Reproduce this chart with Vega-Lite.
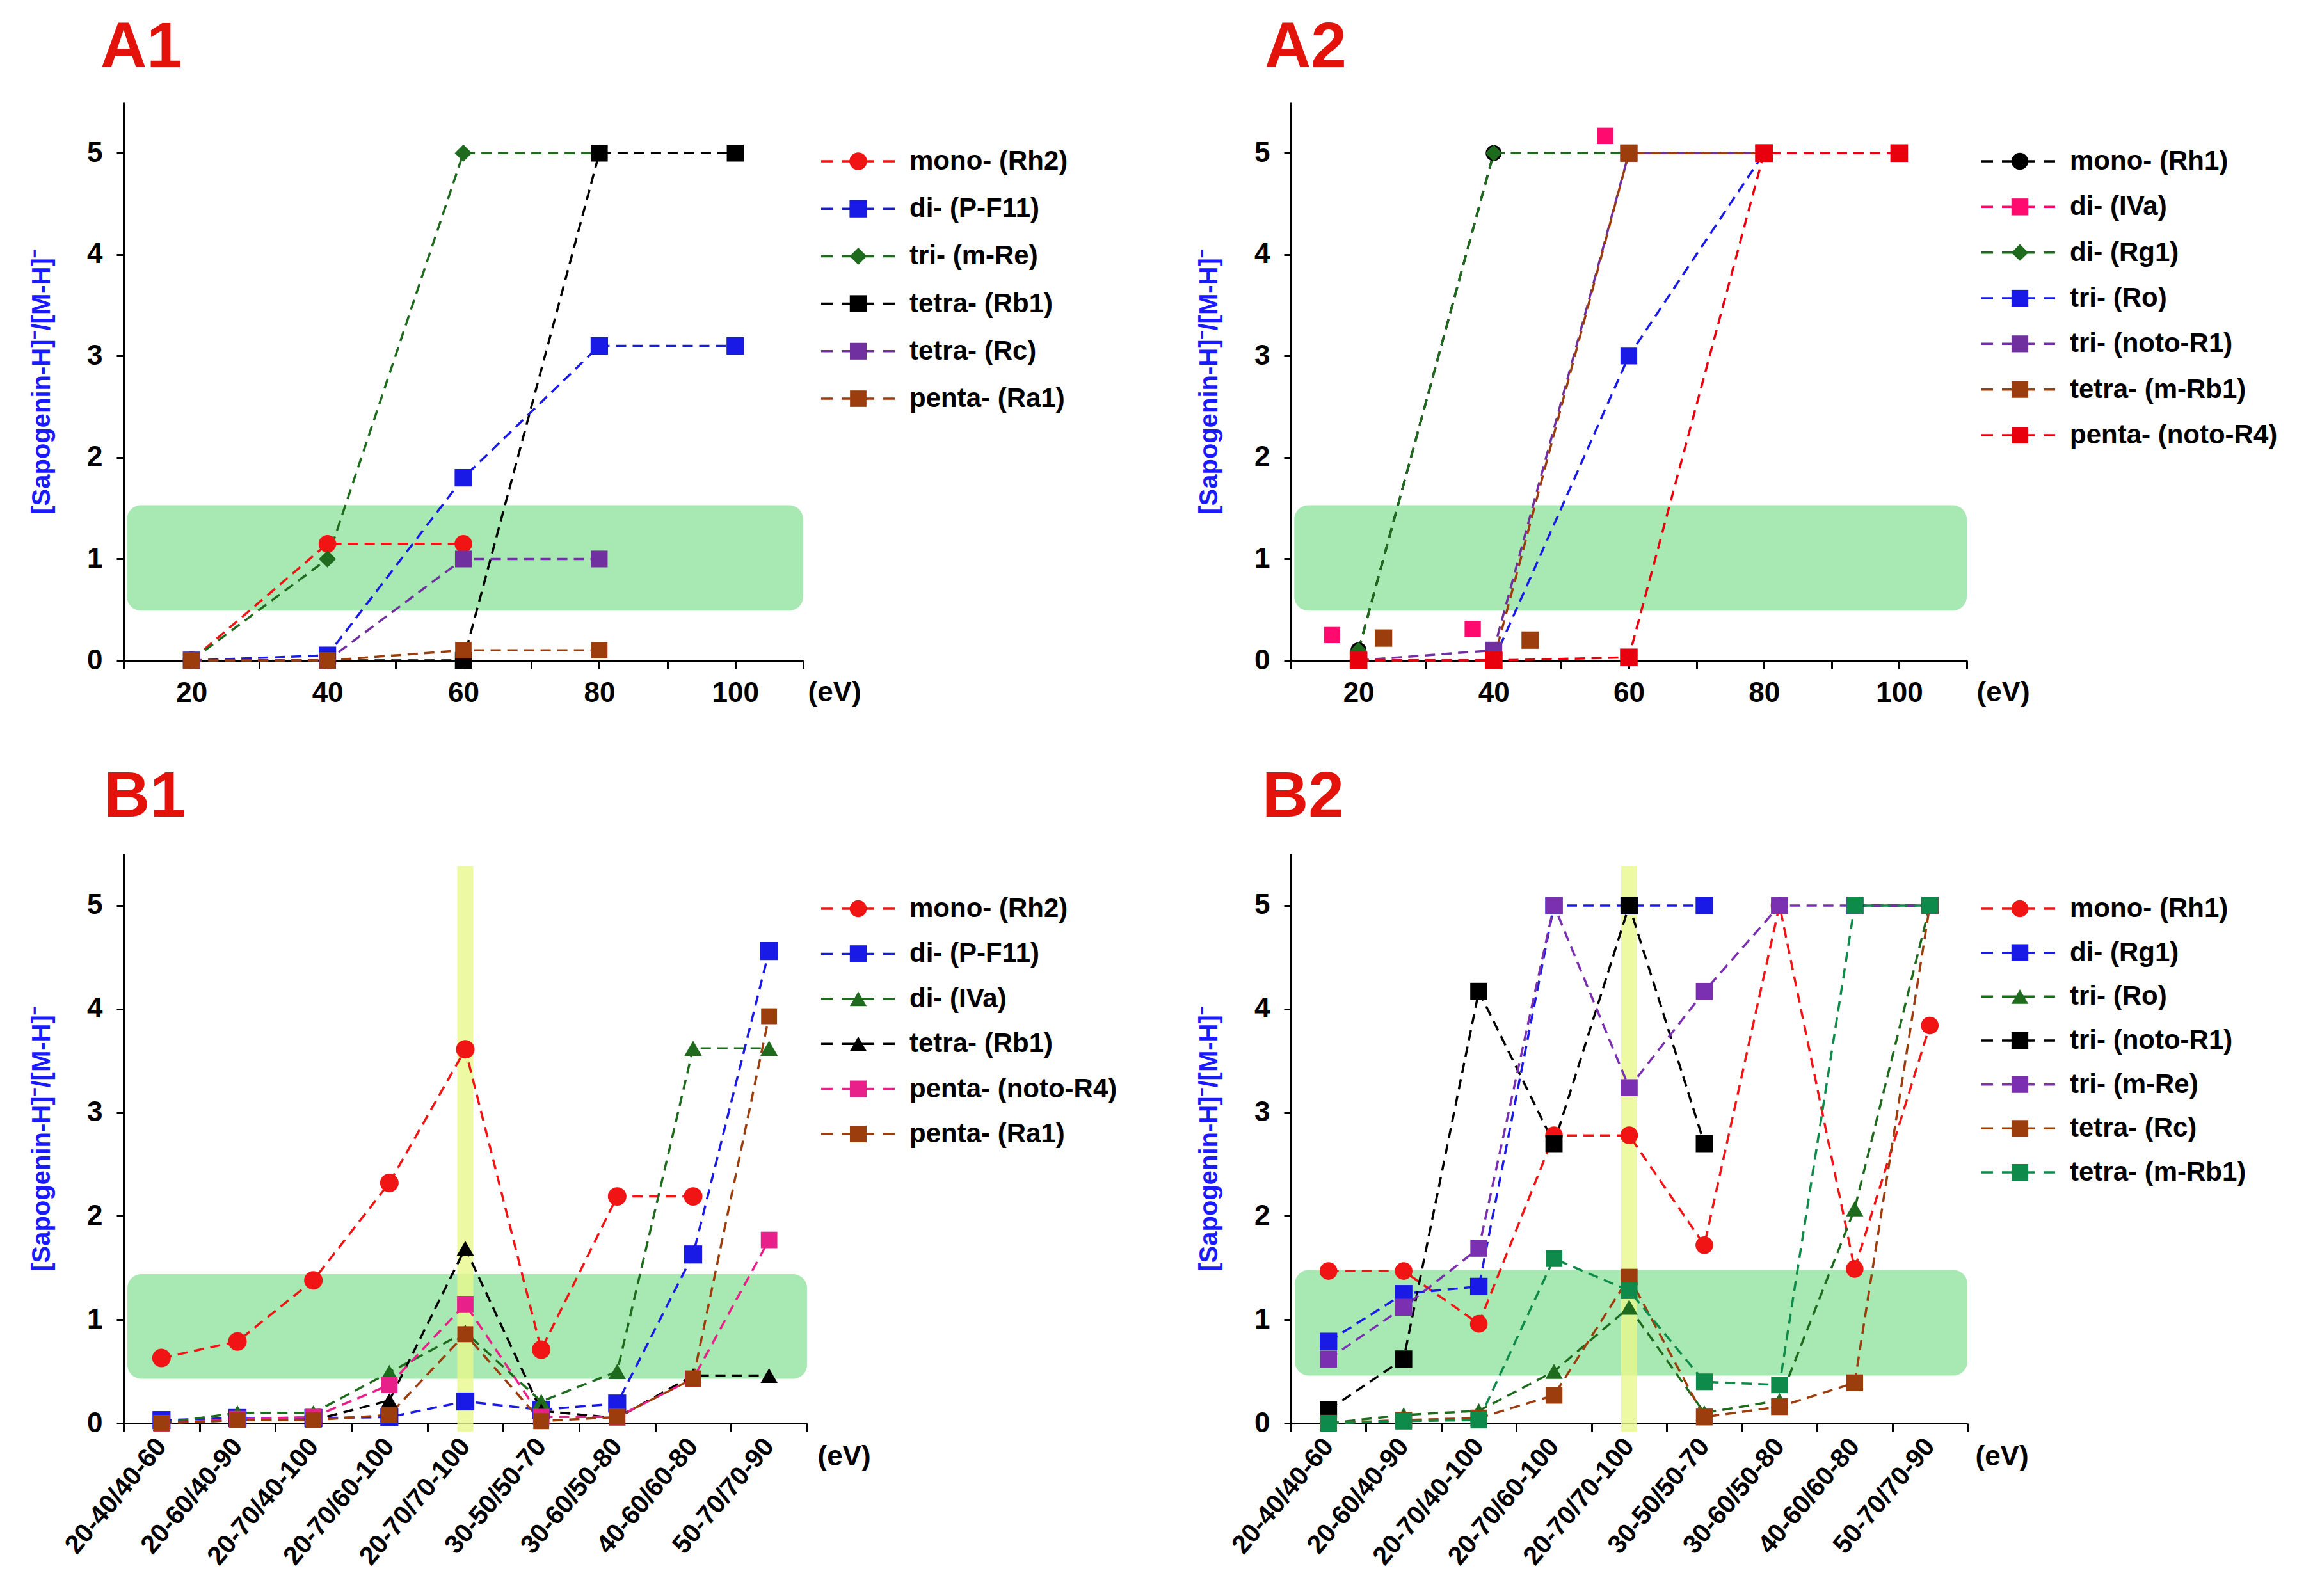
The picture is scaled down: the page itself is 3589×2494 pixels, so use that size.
{
  "$schema": "https://vega.github.io/schema/vega-lite/v6.json",
  "background": "white",
  "padding": {"left": 45, "top": 25, "right": 5, "bottom": 5},
  "config": {
    "font": "Liberation Sans",
    "view": {"stroke": null},
    "axis": {"grid": false, "domainColor": "black", "domainWidth": 3, "tickColor": "black", "tickWidth": 3, "labelColor": "black", "labelFont": "Liberation Sans", "labelFontWeight": "bold", "labelFontSize": 44, "labelFlush": false, "labelOverlap": false, "labelLimit": 600, "titleFont": "Liberation Sans", "titleFontWeight": "bold"},
    "axisY": {"tickSize": 11, "labelPadding": 22, "titleColor": "#1a1aff", "titleFontSize": 40, "titlePadding": 50},
    "axisX": {"tickSize": 13, "labelPadding": 16, "titleFontSize": 44, "titleColor": "black", "titleAlign": "left", "titleBaseline": "middle"}
  },
  "datasets": {
    "a1": [
      {"series": "mono- (Rh2)", "ev": 20, "v": 0}, {"series": "mono- (Rh2)", "ev": 40, "v": 1.15}, {"series": "mono- (Rh2)", "ev": 60, "v": 1.15},
      {"series": "di- (P-F11)", "ev": 20, "v": 0}, {"series": "di- (P-F11)", "ev": 40, "v": 0.05}, {"series": "di- (P-F11)", "ev": 60, "v": 1.8}, {"series": "di- (P-F11)", "ev": 80, "v": 3.1}, {"series": "di- (P-F11)", "ev": 100, "v": 3.1},
      {"series": "tri- (m-Re)", "ev": 20, "v": 0}, {"series": "tri- (m-Re)", "ev": 40, "v": 1.0}, {"series": "tri- (m-Re)", "ev": 60, "v": 5}, {"series": "tri- (m-Re)", "ev": 80, "v": 5},
      {"series": "tetra- (Rb1)", "ev": 20, "v": 0}, {"series": "tetra- (Rb1)", "ev": 40, "v": 0}, {"series": "tetra- (Rb1)", "ev": 60, "v": 0}, {"series": "tetra- (Rb1)", "ev": 80, "v": 5}, {"series": "tetra- (Rb1)", "ev": 100, "v": 5},
      {"series": "tetra- (Rc)", "ev": 20, "v": 0}, {"series": "tetra- (Rc)", "ev": 40, "v": 0}, {"series": "tetra- (Rc)", "ev": 60, "v": 1}, {"series": "tetra- (Rc)", "ev": 80, "v": 1},
      {"series": "penta- (Ra1)", "ev": 20, "v": 0}, {"series": "penta- (Ra1)", "ev": 40, "v": 0}, {"series": "penta- (Ra1)", "ev": 60, "v": 0.1}, {"series": "penta- (Ra1)", "ev": 80, "v": 0.1}
    ],
    "a2": [
      {"series": "mono- (Rh1)", "ev": 20, "v": 0.1}, {"series": "mono- (Rh1)", "ev": 40, "v": 5}, {"series": "mono- (Rh1)", "ev": 60, "v": 5}, {"series": "mono- (Rh1)", "ev": 80, "v": 5},
      {"series": "di- (Rg1)", "ev": 20, "v": 0.1}, {"series": "di- (Rg1)", "ev": 40, "v": 5}, {"series": "di- (Rg1)", "ev": 60, "v": 5}, {"series": "di- (Rg1)", "ev": 80, "v": 5},
      {"series": "tri- (Ro)", "ev": 20, "v": 0}, {"series": "tri- (Ro)", "ev": 40, "v": 0}, {"series": "tri- (Ro)", "ev": 60, "v": 3}, {"series": "tri- (Ro)", "ev": 80, "v": 5},
      {"series": "tri- (noto-R1)", "ev": 20, "v": 0}, {"series": "tri- (noto-R1)", "ev": 40, "v": 0.1}, {"series": "tri- (noto-R1)", "ev": 60, "v": 5}, {"series": "tri- (noto-R1)", "ev": 80, "v": 5},
      {"series": "tetra- (m-Rb1)", "ev": 20, "v": 0}, {"series": "tetra- (m-Rb1)", "ev": 40, "v": 0}, {"series": "tetra- (m-Rb1)", "ev": 60, "v": 5}, {"series": "tetra- (m-Rb1)", "ev": 80, "v": 5},
      {"series": "penta- (noto-R4)", "ev": 20, "v": 0}, {"series": "penta- (noto-R4)", "ev": 40, "v": 0}, {"series": "penta- (noto-R4)", "ev": 60, "v": 0.03}, {"series": "penta- (noto-R4)", "ev": 80, "v": 5}, {"series": "penta- (noto-R4)", "ev": 100, "v": 5}
    ],
    "a2x": [
      {"series": "di- (IVa)", "ev": 16.1, "v": 0.25}, {"series": "di- (IVa)", "ev": 36.9, "v": 0.31}, {"series": "di- (IVa)", "ev": 56.5, "v": 5.17},
      {"series": "tetra- (m-Rb1)", "ev": 23.7, "v": 0.22}, {"series": "tetra- (m-Rb1)", "ev": 45.4, "v": 0.2}
    ],
    "b1": [
      {"series": "mono- (Rh2)", "cat": "20-40/40-60", "v": 0.63}, {"series": "mono- (Rh2)", "cat": "20-60/40-90", "v": 0.79}, {"series": "mono- (Rh2)", "cat": "20-70/40-100", "v": 1.38}, {"series": "mono- (Rh2)", "cat": "20-70/60-100", "v": 2.32}, {"series": "mono- (Rh2)", "cat": "20-70/70-100", "v": 3.61}, {"series": "mono- (Rh2)", "cat": "30-50/50-70", "v": 0.71}, {"series": "mono- (Rh2)", "cat": "30-60/50-80", "v": 2.19}, {"series": "mono- (Rh2)", "cat": "40-60/60-80", "v": 2.19},
      {"series": "di- (P-F11)", "cat": "20-40/40-60", "v": 0.03}, {"series": "di- (P-F11)", "cat": "20-60/40-90", "v": 0.05}, {"series": "di- (P-F11)", "cat": "20-70/40-100", "v": 0.05}, {"series": "di- (P-F11)", "cat": "20-70/60-100", "v": 0.06}, {"series": "di- (P-F11)", "cat": "20-70/70-100", "v": 0.21}, {"series": "di- (P-F11)", "cat": "30-50/50-70", "v": 0.13}, {"series": "di- (P-F11)", "cat": "30-60/50-80", "v": 0.19}, {"series": "di- (P-F11)", "cat": "40-60/60-80", "v": 1.63}, {"series": "di- (P-F11)", "cat": "50-70/70-90", "v": 4.56},
      {"series": "di- (IVa)", "cat": "20-40/40-60", "v": 0}, {"series": "di- (IVa)", "cat": "20-60/40-90", "v": 0.1}, {"series": "di- (IVa)", "cat": "20-70/40-100", "v": 0.1}, {"series": "di- (IVa)", "cat": "20-70/60-100", "v": 0.49}, {"series": "di- (IVa)", "cat": "20-70/70-100", "v": 0.88}, {"series": "di- (IVa)", "cat": "30-50/50-70", "v": 0.21}, {"series": "di- (IVa)", "cat": "30-60/50-80", "v": 0.5}, {"series": "di- (IVa)", "cat": "40-60/60-80", "v": 3.62}, {"series": "di- (IVa)", "cat": "50-70/70-90", "v": 3.62},
      {"series": "tetra- (Rb1)", "cat": "20-40/40-60", "v": 0}, {"series": "tetra- (Rb1)", "cat": "20-60/40-90", "v": 0.03}, {"series": "tetra- (Rb1)", "cat": "20-70/40-100", "v": 0.03}, {"series": "tetra- (Rb1)", "cat": "20-70/60-100", "v": 0.22}, {"series": "tetra- (Rb1)", "cat": "20-70/70-100", "v": 1.69}, {"series": "tetra- (Rb1)", "cat": "30-50/50-70", "v": 0.12}, {"series": "tetra- (Rb1)", "cat": "30-60/50-80", "v": 0.05}, {"series": "tetra- (Rb1)", "cat": "40-60/60-80", "v": 0.46}, {"series": "tetra- (Rb1)", "cat": "50-70/70-90", "v": 0.46},
      {"series": "penta- (noto-R4)", "cat": "20-40/40-60", "v": 0}, {"series": "penta- (noto-R4)", "cat": "20-60/40-90", "v": 0.04}, {"series": "penta- (noto-R4)", "cat": "20-70/40-100", "v": 0.06}, {"series": "penta- (noto-R4)", "cat": "20-70/60-100", "v": 0.37}, {"series": "penta- (noto-R4)", "cat": "20-70/70-100", "v": 1.15}, {"series": "penta- (noto-R4)", "cat": "30-50/50-70", "v": 0.06}, {"series": "penta- (noto-R4)", "cat": "30-60/50-80", "v": 0.06}, {"series": "penta- (noto-R4)", "cat": "40-60/60-80", "v": 0.43}, {"series": "penta- (noto-R4)", "cat": "50-70/70-90", "v": 1.77},
      {"series": "penta- (Ra1)", "cat": "20-40/40-60", "v": 0}, {"series": "penta- (Ra1)", "cat": "20-60/40-90", "v": 0.03}, {"series": "penta- (Ra1)", "cat": "20-70/40-100", "v": 0.03}, {"series": "penta- (Ra1)", "cat": "20-70/60-100", "v": 0.08}, {"series": "penta- (Ra1)", "cat": "20-70/70-100", "v": 0.86}, {"series": "penta- (Ra1)", "cat": "30-50/50-70", "v": 0.02}, {"series": "penta- (Ra1)", "cat": "30-60/50-80", "v": 0.06}, {"series": "penta- (Ra1)", "cat": "40-60/60-80", "v": 0.43}, {"series": "penta- (Ra1)", "cat": "50-70/70-90", "v": 3.93}
    ],
    "b2": [
      {"series": "mono- (Rh1)", "cat": "20-40/40-60", "v": 1.47}, {"series": "mono- (Rh1)", "cat": "20-60/40-90", "v": 1.47}, {"series": "mono- (Rh1)", "cat": "20-70/40-100", "v": 0.96}, {"series": "mono- (Rh1)", "cat": "20-70/60-100", "v": 2.78}, {"series": "mono- (Rh1)", "cat": "20-70/70-100", "v": 2.78}, {"series": "mono- (Rh1)", "cat": "30-50/50-70", "v": 1.72}, {"series": "mono- (Rh1)", "cat": "30-60/50-80", "v": 5.0}, {"series": "mono- (Rh1)", "cat": "40-60/60-80", "v": 1.49}, {"series": "mono- (Rh1)", "cat": "50-70/70-90", "v": 3.84},
      {"series": "di- (Rg1)", "cat": "20-40/40-60", "v": 0.79}, {"series": "di- (Rg1)", "cat": "20-60/40-90", "v": 1.25}, {"series": "di- (Rg1)", "cat": "20-70/40-100", "v": 1.32}, {"series": "di- (Rg1)", "cat": "20-70/60-100", "v": 5.0}, {"series": "di- (Rg1)", "cat": "20-70/70-100", "v": 5.0}, {"series": "di- (Rg1)", "cat": "30-50/50-70", "v": 5.0}, {"series": "di- (Rg1)", "cat": "30-60/50-80", "v": null}, {"series": "di- (Rg1)", "cat": "40-60/60-80", "v": 5.0},
      {"series": "tri- (Ro)", "cat": "20-40/40-60", "v": 0}, {"series": "tri- (Ro)", "cat": "20-60/40-90", "v": 0.08}, {"series": "tri- (Ro)", "cat": "20-70/40-100", "v": 0.12}, {"series": "tri- (Ro)", "cat": "20-70/60-100", "v": 0.5}, {"series": "tri- (Ro)", "cat": "20-70/70-100", "v": 1.12}, {"series": "tri- (Ro)", "cat": "30-50/50-70", "v": 0.1}, {"series": "tri- (Ro)", "cat": "30-60/50-80", "v": 0.22}, {"series": "tri- (Ro)", "cat": "40-60/60-80", "v": 2.07}, {"series": "tri- (Ro)", "cat": "50-70/70-90", "v": 5.0},
      {"series": "tri- (noto-R1)", "cat": "20-40/40-60", "v": 0.13}, {"series": "tri- (noto-R1)", "cat": "20-60/40-90", "v": 0.62}, {"series": "tri- (noto-R1)", "cat": "20-70/40-100", "v": 4.17}, {"series": "tri- (noto-R1)", "cat": "20-70/60-100", "v": 2.7}, {"series": "tri- (noto-R1)", "cat": "20-70/70-100", "v": 5.0}, {"series": "tri- (noto-R1)", "cat": "30-50/50-70", "v": 2.7}, {"series": "tri- (noto-R1)", "cat": "30-60/50-80", "v": null}, {"series": "tri- (noto-R1)", "cat": "40-60/60-80", "v": 5.0}, {"series": "tri- (noto-R1)", "cat": "50-70/70-90", "v": 5.0},
      {"series": "tri- (m-Re)", "cat": "20-40/40-60", "v": 0.62}, {"series": "tri- (m-Re)", "cat": "20-60/40-90", "v": 1.12}, {"series": "tri- (m-Re)", "cat": "20-70/40-100", "v": 1.69}, {"series": "tri- (m-Re)", "cat": "20-70/60-100", "v": 5.0}, {"series": "tri- (m-Re)", "cat": "20-70/70-100", "v": 3.24}, {"series": "tri- (m-Re)", "cat": "30-50/50-70", "v": 4.17}, {"series": "tri- (m-Re)", "cat": "30-60/50-80", "v": 5.0}, {"series": "tri- (m-Re)", "cat": "40-60/60-80", "v": 5.0}, {"series": "tri- (m-Re)", "cat": "50-70/70-90", "v": 5.0},
      {"series": "tetra- (Rc)", "cat": "20-40/40-60", "v": 0}, {"series": "tetra- (Rc)", "cat": "20-60/40-90", "v": 0.03}, {"series": "tetra- (Rc)", "cat": "20-70/40-100", "v": 0.05}, {"series": "tetra- (Rc)", "cat": "20-70/60-100", "v": 0.27}, {"series": "tetra- (Rc)", "cat": "20-70/70-100", "v": 1.41}, {"series": "tetra- (Rc)", "cat": "30-50/50-70", "v": 0.06}, {"series": "tetra- (Rc)", "cat": "30-60/50-80", "v": 0.16}, {"series": "tetra- (Rc)", "cat": "40-60/60-80", "v": 0.39}, {"series": "tetra- (Rc)", "cat": "50-70/70-90", "v": 5.0},
      {"series": "tetra- (m-Rb1)", "cat": "20-40/40-60", "v": 0}, {"series": "tetra- (m-Rb1)", "cat": "20-60/40-90", "v": 0.02}, {"series": "tetra- (m-Rb1)", "cat": "20-70/40-100", "v": 0.03}, {"series": "tetra- (m-Rb1)", "cat": "20-70/60-100", "v": 1.59}, {"series": "tetra- (m-Rb1)", "cat": "20-70/70-100", "v": 1.28}, {"series": "tetra- (m-Rb1)", "cat": "30-50/50-70", "v": 0.4}, {"series": "tetra- (m-Rb1)", "cat": "30-60/50-80", "v": 0.37}, {"series": "tetra- (m-Rb1)", "cat": "40-60/60-80", "v": 5.0}, {"series": "tetra- (m-Rb1)", "cat": "50-70/70-90", "v": 5.0}
    ],
    "la1": [{"series": "mono- (Rh2)"}, {"series": "di- (P-F11)"}, {"series": "tri- (m-Re)"}, {"series": "tetra- (Rb1)"}, {"series": "tetra- (Rc)"}, {"series": "penta- (Ra1)"}],
    "la2": [{"series": "mono- (Rh1)"}, {"series": "di- (IVa)"}, {"series": "di- (Rg1)"}, {"series": "tri- (Ro)"}, {"series": "tri- (noto-R1)"}, {"series": "tetra- (m-Rb1)"}, {"series": "penta- (noto-R4)"}],
    "lb1": [{"series": "mono- (Rh2)"}, {"series": "di- (P-F11)"}, {"series": "di- (IVa)"}, {"series": "tetra- (Rb1)"}, {"series": "penta- (noto-R4)"}, {"series": "penta- (Ra1)"}],
    "lb2": [{"series": "mono- (Rh1)"}, {"series": "di- (Rg1)"}, {"series": "tri- (Ro)"}, {"series": "tri- (noto-R1)"}, {"series": "tri- (m-Re)"}, {"series": "tetra- (Rc)"}, {"series": "tetra- (m-Rb1)"}]
  },
  "columns": 4,
  "spacing": {"row": 302, "column": 22},
  "bounds": "flush",
  "resolve": {"scale": {"x": "independent", "y": "independent", "color": "independent", "shape": "independent", "size": "independent"}},
  "concat": [
    {
      "width": 1062, "height": 872,
      "title": {"text": "A1", "anchor": "start", "frame": "group", "fontSize": 100, "fontWeight": "bold", "color": "#e3120b", "font": "Liberation Sans", "baseline": "alphabetic", "offset": -45, "dx": -36},
      "layer": [
        {"data": {"values": [{}]},
         "mark": {"type": "rect", "fill": "#a8e8b2", "cornerRadius": 22},
         "encoding": {
           "x": {"datum": 10.5, "type": "quantitative", "scale": {"domain": [10, 110], "nice": false, "zero": false}, "axis": {"title": "(eV)", "values": [10, 20, 30, 40, 50, 60, 70, 80, 90, 100, 110], "labelExpr": "(datum.value % 20 == 0 && datum.value >= 20 && datum.value <= 100) ? datum.label : ''", "titleX": 1069, "titleY": 50}},
           "x2": {"datum": 110},
           "y": {"datum": 0.49, "type": "quantitative", "scale": {"domain": [0, 5.5], "nice": false, "zero": false}, "axis": {"title": "[Sapogenin-H]⁻/[M-H]⁻", "values": [0, 1, 2, 3, 4, 5]}},
           "y2": {"datum": 1.53}}},
        {"data": {"name": "a1"},
         "mark": {"type": "line", "strokeWidth": 3.5, "strokeDash": [16, 10]},
         "encoding": {
           "x": {"field": "ev", "type": "quantitative", "scale": {"domain": [10, 110], "nice": false, "zero": false}, "axis": {"title": "(eV)", "values": [10, 20, 30, 40, 50, 60, 70, 80, 90, 100, 110], "labelExpr": "(datum.value % 20 == 0 && datum.value >= 20 && datum.value <= 100) ? datum.label : ''", "titleX": 1069, "titleY": 50}},
           "y": {"field": "v", "type": "quantitative", "scale": {"domain": [0, 5.5], "nice": false, "zero": false}, "axis": {"title": "[Sapogenin-H]⁻/[M-H]⁻", "values": [0, 1, 2, 3, 4, 5]}},
           "color": {"field": "series", "type": "nominal", "scale": {"domain": ["mono- (Rh2)", "di- (P-F11)", "tri- (m-Re)", "tetra- (Rb1)", "tetra- (Rc)", "penta- (Ra1)"], "range": ["#f01414", "#1a1ae6", "#1e6b1e", "#000000", "#7030a0", "#9c3d0d"]}, "legend": null}}},
        {"data": {"name": "a1"},
         "mark": {"type": "point", "filled": true, "opacity": 1, "strokeWidth": 0},
         "encoding": {
           "x": {"field": "ev", "type": "quantitative", "scale": {"domain": [10, 110], "nice": false, "zero": false}, "axis": {"title": "(eV)", "values": [10, 20, 30, 40, 50, 60, 70, 80, 90, 100, 110], "labelExpr": "(datum.value % 20 == 0 && datum.value >= 20 && datum.value <= 100) ? datum.label : ''", "titleX": 1069, "titleY": 50}},
           "y": {"field": "v", "type": "quantitative", "scale": {"domain": [0, 5.5], "nice": false, "zero": false}, "axis": {"title": "[Sapogenin-H]⁻/[M-H]⁻", "values": [0, 1, 2, 3, 4, 5]}},
           "color": {"field": "series", "type": "nominal", "scale": {"domain": ["mono- (Rh2)", "di- (P-F11)", "tri- (m-Re)", "tetra- (Rb1)", "tetra- (Rc)", "penta- (Ra1)"], "range": ["#f01414", "#1a1ae6", "#1e6b1e", "#000000", "#7030a0", "#9c3d0d"]}, "legend": null},
           "shape": {"field": "series", "type": "nominal", "scale": {"domain": ["mono- (Rh2)", "di- (P-F11)", "tri- (m-Re)", "tetra- (Rb1)", "tetra- (Rc)", "penta- (Ra1)"], "range": ["circle", "square", "diamond", "square", "square", "square"]}, "legend": null},
           "size": {"field": "series", "type": "nominal", "scale": {"domain": ["mono- (Rh2)", "di- (P-F11)", "tri- (m-Re)", "tetra- (Rb1)", "tetra- (Rc)", "penta- (Ra1)"], "range": [760, 660, 500, 520, 620, 620]}, "legend": null}}}
      ]
    },
    {
      "width": 712, "height": 872,
      "data": {"name": "la1"},
      "layer": [
        {"mark": {"type": "rule", "strokeWidth": 3.5, "strokeDash": [18, 14, 51, 14, 18, 100]},
         "encoding": {
           "x": {"datum": 0, "type": "quantitative", "scale": {"domain": [0, 712], "nice": false, "zero": false}, "axis": null},
           "x2": {"datum": 115},
           "y": {"field": "series", "type": "nominal", "scale": {"type": "point", "domain": ["mono- (Rh2)", "di- (P-F11)", "tri- (m-Re)", "tetra- (Rb1)", "tetra- (Rc)", "penta- (Ra1)"], "range": [92, 463], "padding": 0}, "axis": null},
           "color": {"field": "series", "type": "nominal", "scale": {"domain": ["mono- (Rh2)", "di- (P-F11)", "tri- (m-Re)", "tetra- (Rb1)", "tetra- (Rc)", "penta- (Ra1)"], "range": ["#f01414", "#1a1ae6", "#1e6b1e", "#000000", "#7030a0", "#9c3d0d"]}, "legend": null}}},
        {"mark": {"type": "point", "filled": true, "opacity": 1, "strokeWidth": 0},
         "encoding": {
           "x": {"datum": 58, "type": "quantitative", "scale": {"domain": [0, 712], "nice": false, "zero": false}, "axis": null},
           "y": {"field": "series", "type": "nominal", "scale": {"type": "point", "domain": ["mono- (Rh2)", "di- (P-F11)", "tri- (m-Re)", "tetra- (Rb1)", "tetra- (Rc)", "penta- (Ra1)"], "range": [92, 463], "padding": 0}, "axis": null},
           "color": {"field": "series", "type": "nominal", "scale": {"domain": ["mono- (Rh2)", "di- (P-F11)", "tri- (m-Re)", "tetra- (Rb1)", "tetra- (Rc)", "penta- (Ra1)"], "range": ["#f01414", "#1a1ae6", "#1e6b1e", "#000000", "#7030a0", "#9c3d0d"]}, "legend": null},
           "shape": {"field": "series", "type": "nominal", "scale": {"domain": ["mono- (Rh2)", "di- (P-F11)", "tri- (m-Re)", "tetra- (Rb1)", "tetra- (Rc)", "penta- (Ra1)"], "range": ["circle", "square", "diamond", "square", "square", "square"]}, "legend": null},
           "size": {"field": "series", "type": "nominal", "scale": {"domain": ["mono- (Rh2)", "di- (P-F11)", "tri- (m-Re)", "tetra- (Rb1)", "tetra- (Rc)", "penta- (Ra1)"], "range": [760, 660, 660, 520, 620, 620]}, "legend": null}}},
        {"mark": {"type": "text", "align": "left", "baseline": "middle", "fontSize": 42, "fontWeight": "bold", "color": "black", "font": "Liberation Sans"},
         "encoding": {
           "x": {"datum": 138, "type": "quantitative", "scale": {"domain": [0, 712], "nice": false, "zero": false}, "axis": null},
           "y": {"field": "series", "type": "nominal", "scale": {"type": "point", "domain": ["mono- (Rh2)", "di- (P-F11)", "tri- (m-Re)", "tetra- (Rb1)", "tetra- (Rc)", "penta- (Ra1)"], "range": [92, 463], "padding": 0}, "axis": null},
           "text": {"field": "series"}}}
      ]
    },
    {
      "width": 1056, "height": 872,
      "title": {"text": "A2", "anchor": "start", "frame": "group", "fontSize": 100, "fontWeight": "bold", "color": "#e3120b", "font": "Liberation Sans", "baseline": "alphabetic", "offset": -45, "dx": -41},
      "layer": [
        {"data": {"values": [{}]},
         "mark": {"type": "rect", "fill": "#a8e8b2", "cornerRadius": 22},
         "encoding": {
           "x": {"datum": 10.5, "type": "quantitative", "scale": {"domain": [10, 110], "nice": false, "zero": false}, "axis": {"title": "(eV)", "values": [10, 20, 30, 40, 50, 60, 70, 80, 90, 100, 110], "labelExpr": "(datum.value % 20 == 0 && datum.value >= 20 && datum.value <= 100) ? datum.label : ''", "titleX": 1071, "titleY": 50}},
           "x2": {"datum": 110},
           "y": {"datum": 0.49, "type": "quantitative", "scale": {"domain": [0, 5.5], "nice": false, "zero": false}, "axis": {"title": "[Sapogenin-H]⁻/[M-H]⁻", "values": [0, 1, 2, 3, 4, 5]}},
           "y2": {"datum": 1.53}}},
        {"data": {"name": "a2"},
         "mark": {"type": "line", "strokeWidth": 3.5, "strokeDash": [16, 10]},
         "encoding": {
           "x": {"field": "ev", "type": "quantitative", "scale": {"domain": [10, 110], "nice": false, "zero": false}, "axis": {"title": "(eV)", "values": [10, 20, 30, 40, 50, 60, 70, 80, 90, 100, 110], "labelExpr": "(datum.value % 20 == 0 && datum.value >= 20 && datum.value <= 100) ? datum.label : ''", "titleX": 1071, "titleY": 50}},
           "y": {"field": "v", "type": "quantitative", "scale": {"domain": [0, 5.5], "nice": false, "zero": false}, "axis": {"title": "[Sapogenin-H]⁻/[M-H]⁻", "values": [0, 1, 2, 3, 4, 5]}},
           "color": {"field": "series", "type": "nominal", "scale": {"domain": ["mono- (Rh1)", "di- (IVa)", "di- (Rg1)", "tri- (Ro)", "tri- (noto-R1)", "tetra- (m-Rb1)", "penta- (noto-R4)"], "range": ["#000000", "#ff0a6e", "#1e6b1e", "#1a1ae6", "#7030a0", "#9c3d0d", "#e8000f"]}, "legend": null}}},
        {"data": {"name": "a2"},
         "mark": {"type": "point", "filled": true, "opacity": 1, "strokeWidth": 0},
         "encoding": {
           "x": {"field": "ev", "type": "quantitative", "scale": {"domain": [10, 110], "nice": false, "zero": false}, "axis": {"title": "(eV)", "values": [10, 20, 30, 40, 50, 60, 70, 80, 90, 100, 110], "labelExpr": "(datum.value % 20 == 0 && datum.value >= 20 && datum.value <= 100) ? datum.label : ''", "titleX": 1071, "titleY": 50}},
           "y": {"field": "v", "type": "quantitative", "scale": {"domain": [0, 5.5], "nice": false, "zero": false}, "axis": {"title": "[Sapogenin-H]⁻/[M-H]⁻", "values": [0, 1, 2, 3, 4, 5]}},
           "color": {"field": "series", "type": "nominal", "scale": {"domain": ["mono- (Rh1)", "di- (IVa)", "di- (Rg1)", "tri- (Ro)", "tri- (noto-R1)", "tetra- (m-Rb1)", "penta- (noto-R4)"], "range": ["#000000", "#ff0a6e", "#1e6b1e", "#1a1ae6", "#7030a0", "#9c3d0d", "#e8000f"]}, "legend": null},
           "shape": {"field": "series", "type": "nominal", "scale": {"domain": ["mono- (Rh1)", "di- (IVa)", "di- (Rg1)", "tri- (Ro)", "tri- (noto-R1)", "tetra- (m-Rb1)", "penta- (noto-R4)"], "range": ["circle", "square", "diamond", "square", "square", "square", "square"]}, "legend": null},
           "size": {"field": "series", "type": "nominal", "scale": {"domain": ["mono- (Rh1)", "di- (IVa)", "di- (Rg1)", "tri- (Ro)", "tri- (noto-R1)", "tetra- (m-Rb1)", "penta- (noto-R4)"], "range": [620, 760, 560, 520, 520, 660, 520]}, "legend": null}}},
        {"data": {"name": "a2x"},
         "mark": {"type": "point", "filled": true, "opacity": 1, "strokeWidth": 0},
         "encoding": {
           "x": {"field": "ev", "type": "quantitative", "scale": {"domain": [10, 110], "nice": false, "zero": false}, "axis": {"title": "(eV)", "values": [10, 20, 30, 40, 50, 60, 70, 80, 90, 100, 110], "labelExpr": "(datum.value % 20 == 0 && datum.value >= 20 && datum.value <= 100) ? datum.label : ''", "titleX": 1071, "titleY": 50}},
           "y": {"field": "v", "type": "quantitative", "scale": {"domain": [0, 5.5], "nice": false, "zero": false}, "axis": {"title": "[Sapogenin-H]⁻/[M-H]⁻", "values": [0, 1, 2, 3, 4, 5]}},
           "color": {"field": "series", "type": "nominal", "scale": {"domain": ["mono- (Rh1)", "di- (IVa)", "di- (Rg1)", "tri- (Ro)", "tri- (noto-R1)", "tetra- (m-Rb1)", "penta- (noto-R4)"], "range": ["#000000", "#ff0a6e", "#1e6b1e", "#1a1ae6", "#7030a0", "#9c3d0d", "#e8000f"]}, "legend": null},
           "shape": {"field": "series", "type": "nominal", "scale": {"domain": ["mono- (Rh1)", "di- (IVa)", "di- (Rg1)", "tri- (Ro)", "tri- (noto-R1)", "tetra- (m-Rb1)", "penta- (noto-R4)"], "range": ["circle", "square", "diamond", "square", "square", "square", "square"]}, "legend": null},
           "size": {"field": "series", "type": "nominal", "scale": {"domain": ["mono- (Rh1)", "di- (IVa)", "di- (Rg1)", "tri- (Ro)", "tri- (noto-R1)", "tetra- (m-Rb1)", "penta- (noto-R4)"], "range": [620, 760, 560, 520, 520, 660, 520]}, "legend": null}}}
      ]
    },
    {
      "width": 480, "height": 872,
      "data": {"name": "la2"},
      "layer": [
        {"mark": {"type": "rule", "strokeWidth": 3.5, "strokeDash": [18, 14, 51, 14, 18, 100]},
         "encoding": {
           "x": {"datum": 0, "type": "quantitative", "scale": {"domain": [0, 480], "nice": false, "zero": false}, "axis": null},
           "x2": {"datum": 115},
           "y": {"field": "series", "type": "nominal", "scale": {"type": "point", "domain": ["mono- (Rh1)", "di- (IVa)", "di- (Rg1)", "tri- (Ro)", "tri- (noto-R1)", "tetra- (m-Rb1)", "penta- (noto-R4)"], "range": [92, 520], "padding": 0}, "axis": null},
           "color": {"field": "series", "type": "nominal", "scale": {"domain": ["mono- (Rh1)", "di- (IVa)", "di- (Rg1)", "tri- (Ro)", "tri- (noto-R1)", "tetra- (m-Rb1)", "penta- (noto-R4)"], "range": ["#000000", "#ff0a6e", "#1e6b1e", "#1a1ae6", "#7030a0", "#9c3d0d", "#e8000f"]}, "legend": null}}},
        {"mark": {"type": "point", "filled": true, "opacity": 1, "strokeWidth": 0},
         "encoding": {
           "x": {"datum": 60, "type": "quantitative", "scale": {"domain": [0, 480], "nice": false, "zero": false}, "axis": null},
           "y": {"field": "series", "type": "nominal", "scale": {"type": "point", "domain": ["mono- (Rh1)", "di- (IVa)", "di- (Rg1)", "tri- (Ro)", "tri- (noto-R1)", "tetra- (m-Rb1)", "penta- (noto-R4)"], "range": [92, 520], "padding": 0}, "axis": null},
           "color": {"field": "series", "type": "nominal", "scale": {"domain": ["mono- (Rh1)", "di- (IVa)", "di- (Rg1)", "tri- (Ro)", "tri- (noto-R1)", "tetra- (m-Rb1)", "penta- (noto-R4)"], "range": ["#000000", "#ff0a6e", "#1e6b1e", "#1a1ae6", "#7030a0", "#9c3d0d", "#e8000f"]}, "legend": null},
           "shape": {"field": "series", "type": "nominal", "scale": {"domain": ["mono- (Rh1)", "di- (IVa)", "di- (Rg1)", "tri- (Ro)", "tri- (noto-R1)", "tetra- (m-Rb1)", "penta- (noto-R4)"], "range": ["circle", "square", "diamond", "square", "square", "square", "square"]}, "legend": null},
           "size": {"field": "series", "type": "nominal", "scale": {"domain": ["mono- (Rh1)", "di- (IVa)", "di- (Rg1)", "tri- (Ro)", "tri- (noto-R1)", "tetra- (m-Rb1)", "penta- (noto-R4)"], "range": [700, 680, 680, 620, 620, 620, 620]}, "legend": null}}},
        {"mark": {"type": "text", "align": "left", "baseline": "middle", "fontSize": 42, "fontWeight": "bold", "color": "black", "font": "Liberation Sans"},
         "encoding": {
           "x": {"datum": 138, "type": "quantitative", "scale": {"domain": [0, 480], "nice": false, "zero": false}, "axis": null},
           "y": {"field": "series", "type": "nominal", "scale": {"type": "point", "domain": ["mono- (Rh1)", "di- (IVa)", "di- (Rg1)", "tri- (Ro)", "tri- (noto-R1)", "tetra- (m-Rb1)", "penta- (noto-R4)"], "range": [92, 520], "padding": 0}, "axis": null},
           "text": {"field": "series"}}}
      ]
    },
    {
      "width": 1068, "height": 890,
      "title": {"text": "B1", "anchor": "start", "frame": "group", "fontSize": 100, "fontWeight": "bold", "color": "#e3120b", "font": "Liberation Sans", "baseline": "alphabetic", "offset": -42, "dx": -31},
      "layer": [
        {"data": {"values": [{}]},
         "mark": {"type": "rect", "fill": "#a8e8b2", "cornerRadius": 22},
         "encoding": {
           "x": {"value": 6},
           "x2": {"value": "width"},
           "y": {"datum": 0.43, "type": "quantitative", "scale": {"domain": [0, 5.5], "nice": false, "zero": false}, "axis": {"title": "[Sapogenin-H]⁻/[M-H]⁻", "values": [0, 1, 2, 3, 4, 5]}},
           "y2": {"datum": 1.44}}},
        {"data": {"values": [{}]},
         "mark": {"type": "bar", "width": 25, "fill": "#e8f78c", "opacity": 0.8},
         "encoding": {
           "x": {"datum": "20-70/70-100", "type": "nominal", "scale": {"type": "band", "domain": ["20-40/40-60", "20-60/40-90", "20-70/40-100", "20-70/60-100", "20-70/70-100", "30-50/50-70", "30-60/50-80", "40-60/60-80", "50-70/70-90"], "paddingInner": 0, "paddingOuter": 0}, "axis": {"title": "(eV)", "tickBand": "extent", "labelAngle": -50, "labelFontSize": 41, "titleX": 1084, "titleY": 52}},
           "y": {"datum": -0.08, "type": "quantitative", "scale": {"domain": [0, 5.5], "nice": false, "zero": false}, "axis": {"title": "[Sapogenin-H]⁻/[M-H]⁻", "values": [0, 1, 2, 3, 4, 5]}},
           "y2": {"datum": 5.38}}},
        {"data": {"name": "b1"},
         "mark": {"type": "line", "strokeWidth": 3.5, "strokeDash": [16, 10], "invalid": "break-paths-filter-domains"},
         "encoding": {
           "x": {"field": "cat", "type": "nominal", "scale": {"type": "band", "domain": ["20-40/40-60", "20-60/40-90", "20-70/40-100", "20-70/60-100", "20-70/70-100", "30-50/50-70", "30-60/50-80", "40-60/60-80", "50-70/70-90"], "paddingInner": 0, "paddingOuter": 0}, "axis": {"title": "(eV)", "tickBand": "extent", "labelAngle": -50, "labelFontSize": 41, "titleX": 1084, "titleY": 52}},
           "y": {"field": "v", "type": "quantitative", "scale": {"domain": [0, 5.5], "nice": false, "zero": false}, "axis": {"title": "[Sapogenin-H]⁻/[M-H]⁻", "values": [0, 1, 2, 3, 4, 5]}},
           "color": {"field": "series", "type": "nominal", "scale": {"domain": ["mono- (Rh2)", "di- (P-F11)", "di- (IVa)", "tetra- (Rb1)", "penta- (noto-R4)", "penta- (Ra1)"], "range": ["#f01414", "#1a1ae6", "#1e6b1e", "#000000", "#e8208a", "#9c3d0d"]}, "legend": null}}},
        {"data": {"name": "b1"},
         "mark": {"type": "point", "filled": true, "opacity": 1, "strokeWidth": 0},
         "encoding": {
           "x": {"field": "cat", "type": "nominal", "scale": {"type": "band", "domain": ["20-40/40-60", "20-60/40-90", "20-70/40-100", "20-70/60-100", "20-70/70-100", "30-50/50-70", "30-60/50-80", "40-60/60-80", "50-70/70-90"], "paddingInner": 0, "paddingOuter": 0}, "axis": {"title": "(eV)", "tickBand": "extent", "labelAngle": -50, "labelFontSize": 41, "titleX": 1084, "titleY": 52}},
           "y": {"field": "v", "type": "quantitative", "scale": {"domain": [0, 5.5], "nice": false, "zero": false}, "axis": {"title": "[Sapogenin-H]⁻/[M-H]⁻", "values": [0, 1, 2, 3, 4, 5]}},
           "color": {"field": "series", "type": "nominal", "scale": {"domain": ["mono- (Rh2)", "di- (P-F11)", "di- (IVa)", "tetra- (Rb1)", "penta- (noto-R4)", "penta- (Ra1)"], "range": ["#f01414", "#1a1ae6", "#1e6b1e", "#000000", "#e8208a", "#9c3d0d"]}, "legend": null},
           "shape": {"field": "series", "type": "nominal", "scale": {"domain": ["mono- (Rh2)", "di- (P-F11)", "di- (IVa)", "tetra- (Rb1)", "penta- (noto-R4)", "penta- (Ra1)"], "range": ["circle", "square", "triangle-up", "triangle-up", "square", "square"]}, "legend": null},
           "size": {"field": "series", "type": "nominal", "scale": {"domain": ["mono- (Rh2)", "di- (P-F11)", "di- (IVa)", "tetra- (Rb1)", "penta- (noto-R4)", "penta- (Ra1)"], "range": [840, 620, 620, 620, 520, 620]}, "legend": null}}}
      ]
    },
    {
      "width": 712, "height": 890,
      "data": {"name": "lb1"},
      "layer": [
        {"mark": {"type": "rule", "strokeWidth": 3.5, "strokeDash": [18, 14, 51, 14, 18, 100]},
         "encoding": {
           "x": {"datum": 0, "type": "quantitative", "scale": {"domain": [0, 712], "nice": false, "zero": false}, "axis": null},
           "x2": {"datum": 115},
           "y": {"field": "series", "type": "nominal", "scale": {"type": "point", "domain": ["mono- (Rh2)", "di- (P-F11)", "di- (IVa)", "tetra- (Rb1)", "penta- (noto-R4)", "penta- (Ra1)"], "range": [86, 438], "padding": 0}, "axis": null},
           "color": {"field": "series", "type": "nominal", "scale": {"domain": ["mono- (Rh2)", "di- (P-F11)", "di- (IVa)", "tetra- (Rb1)", "penta- (noto-R4)", "penta- (Ra1)"], "range": ["#f01414", "#1a1ae6", "#1e6b1e", "#000000", "#e8208a", "#9c3d0d"]}, "legend": null}}},
        {"mark": {"type": "point", "filled": true, "opacity": 1, "strokeWidth": 0},
         "encoding": {
           "x": {"datum": 58, "type": "quantitative", "scale": {"domain": [0, 712], "nice": false, "zero": false}, "axis": null},
           "y": {"field": "series", "type": "nominal", "scale": {"type": "point", "domain": ["mono- (Rh2)", "di- (P-F11)", "di- (IVa)", "tetra- (Rb1)", "penta- (noto-R4)", "penta- (Ra1)"], "range": [86, 438], "padding": 0}, "axis": null},
           "color": {"field": "series", "type": "nominal", "scale": {"domain": ["mono- (Rh2)", "di- (P-F11)", "di- (IVa)", "tetra- (Rb1)", "penta- (noto-R4)", "penta- (Ra1)"], "range": ["#f01414", "#1a1ae6", "#1e6b1e", "#000000", "#e8208a", "#9c3d0d"]}, "legend": null},
           "shape": {"field": "series", "type": "nominal", "scale": {"domain": ["mono- (Rh2)", "di- (P-F11)", "di- (IVa)", "tetra- (Rb1)", "penta- (noto-R4)", "penta- (Ra1)"], "range": ["circle", "square", "triangle-up", "triangle-up", "square", "square"]}, "legend": null},
           "size": {"field": "series", "type": "nominal", "scale": {"domain": ["mono- (Rh2)", "di- (P-F11)", "di- (IVa)", "tetra- (Rb1)", "penta- (noto-R4)", "penta- (Ra1)"], "range": [700, 680, 620, 620, 620, 620]}, "legend": null}}},
        {"mark": {"type": "text", "align": "left", "baseline": "middle", "fontSize": 42, "fontWeight": "bold", "color": "black", "font": "Liberation Sans"},
         "encoding": {
           "x": {"datum": 138, "type": "quantitative", "scale": {"domain": [0, 712], "nice": false, "zero": false}, "axis": null},
           "y": {"field": "series", "type": "nominal", "scale": {"type": "point", "domain": ["mono- (Rh2)", "di- (P-F11)", "di- (IVa)", "tetra- (Rb1)", "penta- (noto-R4)", "penta- (Ra1)"], "range": [86, 438], "padding": 0}, "axis": null},
           "text": {"field": "series"}}}
      ]
    },
    {
      "width": 1057, "height": 890,
      "title": {"text": "B2", "anchor": "start", "frame": "group", "fontSize": 100, "fontWeight": "bold", "color": "#e3120b", "font": "Liberation Sans", "baseline": "alphabetic", "offset": -42, "dx": -45},
      "layer": [
        {"data": {"values": [{}]},
         "mark": {"type": "rect", "fill": "#a8e8b2", "cornerRadius": 22},
         "encoding": {
           "x": {"value": 6},
           "x2": {"value": "width"},
           "y": {"datum": 0.46, "type": "quantitative", "scale": {"domain": [0, 5.5], "nice": false, "zero": false}, "axis": {"title": "[Sapogenin-H]⁻/[M-H]⁻", "values": [0, 1, 2, 3, 4, 5]}},
           "y2": {"datum": 1.48}}},
        {"data": {"values": [{}]},
         "mark": {"type": "bar", "width": 25, "fill": "#e8f78c", "opacity": 0.8},
         "encoding": {
           "x": {"datum": "20-70/70-100", "type": "nominal", "scale": {"type": "band", "domain": ["20-40/40-60", "20-60/40-90", "20-70/40-100", "20-70/60-100", "20-70/70-100", "30-50/50-70", "30-60/50-80", "40-60/60-80", "50-70/70-90"], "paddingInner": 0, "paddingOuter": 0}, "axis": {"title": "(eV)", "tickBand": "extent", "labelAngle": -50, "labelFontSize": 41, "titleX": 1069, "titleY": 52}},
           "y": {"datum": -0.08, "type": "quantitative", "scale": {"domain": [0, 5.5], "nice": false, "zero": false}, "axis": {"title": "[Sapogenin-H]⁻/[M-H]⁻", "values": [0, 1, 2, 3, 4, 5]}},
           "y2": {"datum": 5.38}}},
        {"data": {"name": "b2"},
         "mark": {"type": "line", "strokeWidth": 3.5, "strokeDash": [16, 10], "invalid": "break-paths-filter-domains"},
         "encoding": {
           "x": {"field": "cat", "type": "nominal", "scale": {"type": "band", "domain": ["20-40/40-60", "20-60/40-90", "20-70/40-100", "20-70/60-100", "20-70/70-100", "30-50/50-70", "30-60/50-80", "40-60/60-80", "50-70/70-90"], "paddingInner": 0, "paddingOuter": 0}, "axis": {"title": "(eV)", "tickBand": "extent", "labelAngle": -50, "labelFontSize": 41, "titleX": 1069, "titleY": 52}},
           "y": {"field": "v", "type": "quantitative", "scale": {"domain": [0, 5.5], "nice": false, "zero": false}, "axis": {"title": "[Sapogenin-H]⁻/[M-H]⁻", "values": [0, 1, 2, 3, 4, 5]}},
           "color": {"field": "series", "type": "nominal", "scale": {"domain": ["mono- (Rh1)", "di- (Rg1)", "tri- (Ro)", "tri- (noto-R1)", "tri- (m-Re)", "tetra- (Rc)", "tetra- (m-Rb1)"], "range": ["#f01414", "#1a1ae6", "#1e6b1e", "#000000", "#7a30b0", "#9c3d0d", "#0e8a4a"]}, "legend": null}}},
        {"data": {"name": "b2"},
         "mark": {"type": "point", "filled": true, "opacity": 1, "strokeWidth": 0},
         "encoding": {
           "x": {"field": "cat", "type": "nominal", "scale": {"type": "band", "domain": ["20-40/40-60", "20-60/40-90", "20-70/40-100", "20-70/60-100", "20-70/70-100", "30-50/50-70", "30-60/50-80", "40-60/60-80", "50-70/70-90"], "paddingInner": 0, "paddingOuter": 0}, "axis": {"title": "(eV)", "tickBand": "extent", "labelAngle": -50, "labelFontSize": 41, "titleX": 1069, "titleY": 52}},
           "y": {"field": "v", "type": "quantitative", "scale": {"domain": [0, 5.5], "nice": false, "zero": false}, "axis": {"title": "[Sapogenin-H]⁻/[M-H]⁻", "values": [0, 1, 2, 3, 4, 5]}},
           "color": {"field": "series", "type": "nominal", "scale": {"domain": ["mono- (Rh1)", "di- (Rg1)", "tri- (Ro)", "tri- (noto-R1)", "tri- (m-Re)", "tetra- (Rc)", "tetra- (m-Rb1)"], "range": ["#f01414", "#1a1ae6", "#1e6b1e", "#000000", "#7a30b0", "#9c3d0d", "#0e8a4a"]}, "legend": null},
           "shape": {"field": "series", "type": "nominal", "scale": {"domain": ["mono- (Rh1)", "di- (Rg1)", "tri- (Ro)", "tri- (noto-R1)", "tri- (m-Re)", "tetra- (Rc)", "tetra- (m-Rb1)"], "range": ["circle", "square", "triangle-up", "square", "square", "square", "square"]}, "legend": null},
           "size": {"field": "series", "type": "nominal", "scale": {"domain": ["mono- (Rh1)", "di- (Rg1)", "tri- (Ro)", "tri- (noto-R1)", "tri- (m-Re)", "tetra- (Rc)", "tetra- (m-Rb1)"], "range": [760, 680, 620, 520, 620, 620, 620]}, "legend": null}}}
      ]
    },
    {
      "width": 480, "height": 890,
      "data": {"name": "lb2"},
      "layer": [
        {"mark": {"type": "rule", "strokeWidth": 3.5, "strokeDash": [18, 14, 51, 14, 18, 100]},
         "encoding": {
           "x": {"datum": 0, "type": "quantitative", "scale": {"domain": [0, 480], "nice": false, "zero": false}, "axis": null},
           "x2": {"datum": 115},
           "y": {"field": "series", "type": "nominal", "scale": {"type": "point", "domain": ["mono- (Rh1)", "di- (Rg1)", "tri- (Ro)", "tri- (noto-R1)", "tri- (m-Re)", "tetra- (Rc)", "tetra- (m-Rb1)"], "range": [86, 498], "padding": 0}, "axis": null},
           "color": {"field": "series", "type": "nominal", "scale": {"domain": ["mono- (Rh1)", "di- (Rg1)", "tri- (Ro)", "tri- (noto-R1)", "tri- (m-Re)", "tetra- (Rc)", "tetra- (m-Rb1)"], "range": ["#f01414", "#1a1ae6", "#1e6b1e", "#000000", "#7a30b0", "#9c3d0d", "#0e8a4a"]}, "legend": null}}},
        {"mark": {"type": "point", "filled": true, "opacity": 1, "strokeWidth": 0},
         "encoding": {
           "x": {"datum": 60, "type": "quantitative", "scale": {"domain": [0, 480], "nice": false, "zero": false}, "axis": null},
           "y": {"field": "series", "type": "nominal", "scale": {"type": "point", "domain": ["mono- (Rh1)", "di- (Rg1)", "tri- (Ro)", "tri- (noto-R1)", "tri- (m-Re)", "tetra- (Rc)", "tetra- (m-Rb1)"], "range": [86, 498], "padding": 0}, "axis": null},
           "color": {"field": "series", "type": "nominal", "scale": {"domain": ["mono- (Rh1)", "di- (Rg1)", "tri- (Ro)", "tri- (noto-R1)", "tri- (m-Re)", "tetra- (Rc)", "tetra- (m-Rb1)"], "range": ["#f01414", "#1a1ae6", "#1e6b1e", "#000000", "#7a30b0", "#9c3d0d", "#0e8a4a"]}, "legend": null},
           "shape": {"field": "series", "type": "nominal", "scale": {"domain": ["mono- (Rh1)", "di- (Rg1)", "tri- (Ro)", "tri- (noto-R1)", "tri- (m-Re)", "tetra- (Rc)", "tetra- (m-Rb1)"], "range": ["circle", "square", "triangle-up", "square", "square", "square", "square"]}, "legend": null},
           "size": {"field": "series", "type": "nominal", "scale": {"domain": ["mono- (Rh1)", "di- (Rg1)", "tri- (Ro)", "tri- (noto-R1)", "tri- (m-Re)", "tetra- (Rc)", "tetra- (m-Rb1)"], "range": [700, 680, 620, 620, 620, 620, 620]}, "legend": null}}},
        {"mark": {"type": "text", "align": "left", "baseline": "middle", "fontSize": 42, "fontWeight": "bold", "color": "black", "font": "Liberation Sans"},
         "encoding": {
           "x": {"datum": 138, "type": "quantitative", "scale": {"domain": [0, 480], "nice": false, "zero": false}, "axis": null},
           "y": {"field": "series", "type": "nominal", "scale": {"type": "point", "domain": ["mono- (Rh1)", "di- (Rg1)", "tri- (Ro)", "tri- (noto-R1)", "tri- (m-Re)", "tetra- (Rc)", "tetra- (m-Rb1)"], "range": [86, 498], "padding": 0}, "axis": null},
           "text": {"field": "series"}}}
      ]
    }
  ]
}
